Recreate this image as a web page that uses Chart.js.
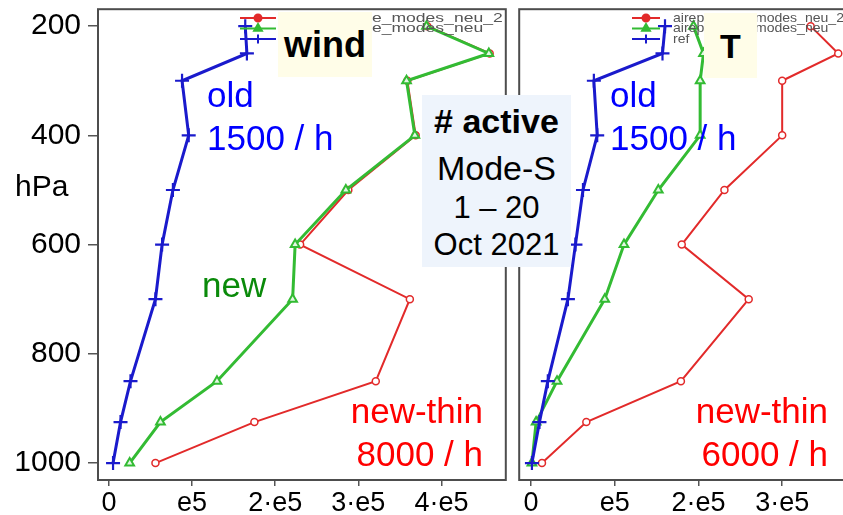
<!DOCTYPE html>
<html>
<head>
<meta charset="utf-8">
<script src="https://cdn.jsdelivr.net/npm/chart.js@4.4.1/dist/chart.umd.min.js"></script>
<style>
  html, body { margin: 0; padding: 0; background: #fff; overflow: hidden; }
  #wrap { position: relative; width: 843px; height: 515px; overflow: hidden;
          font-family: "Liberation Sans", Arial, sans-serif; }
  canvas { position: absolute; top: 0; }
  .t { position: absolute; white-space: nowrap; line-height: 1; }
  .box { position: absolute; display: flex; flex-direction: column;
         align-items: center; justify-content: center; line-height: 1; }
</style>
</head>
<body>
<div id="wrap">
  <canvas id="cWind" width="515" height="515" style="left:0"></canvas>
  <canvas id="cT" width="360" height="515" style="left:510px"></canvas>

  <div class="t" style="left:15px; top:171px; font-size:30px; color:#000;">hPa</div>

  <div class="t" style="left:207px; top:77px; font-size:35px; color:#0000ff;">old</div>
  <div class="t" style="left:207px; top:120px; font-size:35px; color:#0000ff;">1500 / h</div>
  <div class="t" style="left:202px; top:267px; font-size:35px; color:#0a8a0a;">new</div>
  <div class="t" style="left:283px; width:200px; text-align:right; top:393px; font-size:35px; color:#ff0000;">new-thin</div>
  <div class="t" style="left:283px; width:200px; text-align:right; top:436px; font-size:35px; color:#ff0000;">8000 / h</div>

  <div class="t" style="left:610px; top:77px; font-size:35px; color:#0000ff;">old</div>
  <div class="t" style="left:610px; top:120px; font-size:35px; color:#0000ff;">1500 / h</div>
  <div class="t" style="left:628px; width:200px; text-align:right; top:393px; font-size:35px; color:#ff0000;">new-thin</div>
  <div class="t" style="left:628px; width:200px; text-align:right; top:436px; font-size:35px; color:#ff0000;">6000 / h</div>

  <div class="box" style="left:278px; top:12px; width:94px; height:65px; background:#fffde8;">
    <span style="font-size:36px; font-weight:bold; color:#000;">wind</span>
  </div>
  <div class="box" style="left:704px; top:13px; width:53px; height:65px; background:#fffde8;">
    <span style="font-size:34px; font-weight:bold; color:#000;">T</span>
  </div>
  <div style="position:absolute; left:422px; top:95px; width:149px; height:172px; background:#eef4fc;">
    <div class="t" style="left:0; width:149px; text-align:center; top:9px; font-size:34px; font-weight:bold;">#&nbsp;active</div>
    <div class="t" style="left:0; width:149px; text-align:center; top:56px; font-size:34px;">Mode-S</div>
    <div class="t" style="left:0; width:149px; text-align:center; top:97px; font-size:31px;">1 – 20</div>
    <div class="t" style="left:0; width:149px; text-align:center; top:134px; font-size:31px;">Oct 2021</div>
  </div>
</div>

<script>
// Pressure levels (hPa) and the number of observations per level
const levels = [200, 250, 300, 400, 500, 600, 700, 850, 925, 1000];
const seriesNames = ['airep_mode_modes_neu_2', 'airep_mode_modes_neu', 'ref'];

// wind
const windNew2 = [383000, 458000, 359000, 369000, 288000, 230000, 362000, 321000, 175000, 56000];
const windNew  = [382000, 457000, 358000, 368000, 285000, 224000, 221000, 130000, 62000, 25000];
const windRef  = [164000, 166000, 88000, 96000, 77000, 64000, 56000, 26000, 14000, 5000];

// temperature
const tNew2 = [334000, 367000, 300000, 300000, 231000, 180000, 260000, 179000, 66000, 13000];
const tNew  = [194000, 206000, 202000, 202000, 152000, 111000, 88000, 31000, 6000, 1000];
const tRef  = [160000, 157000, 75000, 79000, 62000, 53000, 44000, 20000, 10000, 1000];

const pTicks = [200, 400, 600, 800, 1000];
const windXTicks = [0, 100000, 200000, 300000, 400000];
const windXLabels = ['0', 'e5', '2·e5', '3·e5', '4·e5'];
const tXTicks = [0, 100000, 200000, 300000];
const tXLabels = ['0', 'e5', '2·e5', '3·e5'];

const FONT = '"Liberation Sans", Arial, sans-serif';

const seriesStyle = [
  { color: '#e22a2a', width: 2,   pointStyle: 'circle',   radius: 3.5, fill: '#ffffff', bw: 1.5 },
  { color: '#33bb33', width: 3,   pointStyle: 'triangle', radius: 5,   fill: '#e4f6e4', bw: 2 },
  { color: '#1a1acc', width: 3,   pointStyle: 'cross',    radius: 7,   fill: '#1a1acc', bw: 2.2 }
];

function buildDatasets(series) {
  return series.map((vals, i) => {
    const s = seriesStyle[i];
    return {
      label: seriesNames[i],
      data: levels.map((p, j) => ({ x: vals[j], y: p })),
      showLine: true,
      borderColor: s.color,
      backgroundColor: s.color,
      borderWidth: s.width,
      pointStyle: s.pointStyle,
      pointRadius: s.radius,
      pointBackgroundColor: s.fill,
      pointBorderColor: s.color,
      pointBorderWidth: s.bw,
      tension: 0,
      order: 3 - i,
      clip: false
    };
  });
}

// Box around the plot area
const framePlugin = {
  id: 'frame',
  beforeDatasetsDraw(chart) {
    const { ctx, chartArea: a } = chart;
    ctx.save();
    ctx.strokeStyle = '#4d4d4d';
    ctx.lineWidth = 2;
    ctx.strokeRect(a.left, a.top, a.right - a.left, a.bottom - a.top);
    ctx.restore();
  }
};

// Small legend in the upper part of each panel
const miniLegend = {
  id: 'miniLegend',
  afterDatasetsDraw(chart, args, opts) {
    const ctx = chart.ctx;
    ctx.save();
    chart.data.datasets.forEach((ds, i) => {
      const y = opts.y0 + i * opts.dy;
      ctx.strokeStyle = ds.borderColor;
      ctx.lineWidth = 2;
      ctx.beginPath();
      ctx.moveTo(opts.x0, y);
      ctx.lineTo(opts.x1, y);
      ctx.stroke();
      ctx.fillStyle = ds.borderColor;
      Chart.helpers.drawPoint(ctx, {
        pointStyle: ds.pointStyle,
        radius: Math.min(ds.pointRadius, 4.5),
        borderWidth: 1.5,
        rotation: 0
      }, (opts.x0 + opts.x1) / 2, y);
      ctx.save();
      ctx.translate(opts.tx, y);
      ctx.scale(opts.sx, 1);
      ctx.fillStyle = '#555';
      ctx.font = '13px ' + FONT;
      ctx.textBaseline = 'middle';
      ctx.fillText(ds.label, 0, 0);
      ctx.restore();
    });
    ctx.restore();
  }
};

function noPad(s) {
  s.paddingTop = 0; s.paddingBottom = 0; s.paddingLeft = 0; s.paddingRight = 0;
}

function makeChart(id, series, xr, xTicks, xLabels, showY, padRight, legendOpts) {
  return new Chart(document.getElementById(id), {
    type: 'scatter',
    data: { datasets: buildDatasets(series) },
    options: {
      responsive: false,
      animation: false,
      devicePixelRatio: 1,
      layout: { padding: { left: 0, right: padRight, top: 8, bottom: 0 } },
      plugins: {
        legend: { display: false },
        tooltip: { enabled: false },
        miniLegend: legendOpts
      },
      scales: {
        x: {
          type: 'linear',
          min: xr[0], max: xr[1],
          afterBuildTicks(s) { s.ticks = xTicks.map(v => ({ value: v })); },
          afterFit(s) { s.height = 35; noPad(s); },
          ticks: {
            autoSkip: false, maxRotation: 0, padding: 1,
            color: '#000', font: { family: FONT, size: 27 },
            callback: (v) => xLabels[xTicks.indexOf(v)]
          },
          grid: { drawOnChartArea: false, tickLength: 6, color: '#555', lineWidth: 1.5 },
          border: { display: false }
        },
        y: {
          type: 'linear',
          reverse: true,
          min: 169, max: 1031,
          afterBuildTicks(s) { s.ticks = pTicks.map(v => ({ value: v })); },
          afterFit(s) { s.width = showY ? 98 : 6; noPad(s); },
          ticks: {
            display: showY, padding: 7,
            color: '#000', font: { family: FONT, size: 30 },
            callback: (v) => String(v)
          },
          grid: { display: showY, drawOnChartArea: false, tickLength: 10, color: '#555', lineWidth: 1.5 },
          border: { display: false }
        }
      }
    },
    plugins: [framePlugin, miniLegend]
  });
}

makeChart('cWind', [windNew2, windNew, windRef], [-13100, 477400],
  windXTicks, windXLabels, true, 5,
  { x0: 240, x1: 276, tx: 289, y0: 18, dy: 10.5, sx: 1.35 });

makeChart('cT', [tNew2, tNew, tRef], [-14200, 388200],
  tXTicks, tXLabels, false, 14,
  { x0: 122, x1: 150, tx: 163, y0: 18, dy: 10.5, sx: 1.08 });
</script>
</body>
</html>
